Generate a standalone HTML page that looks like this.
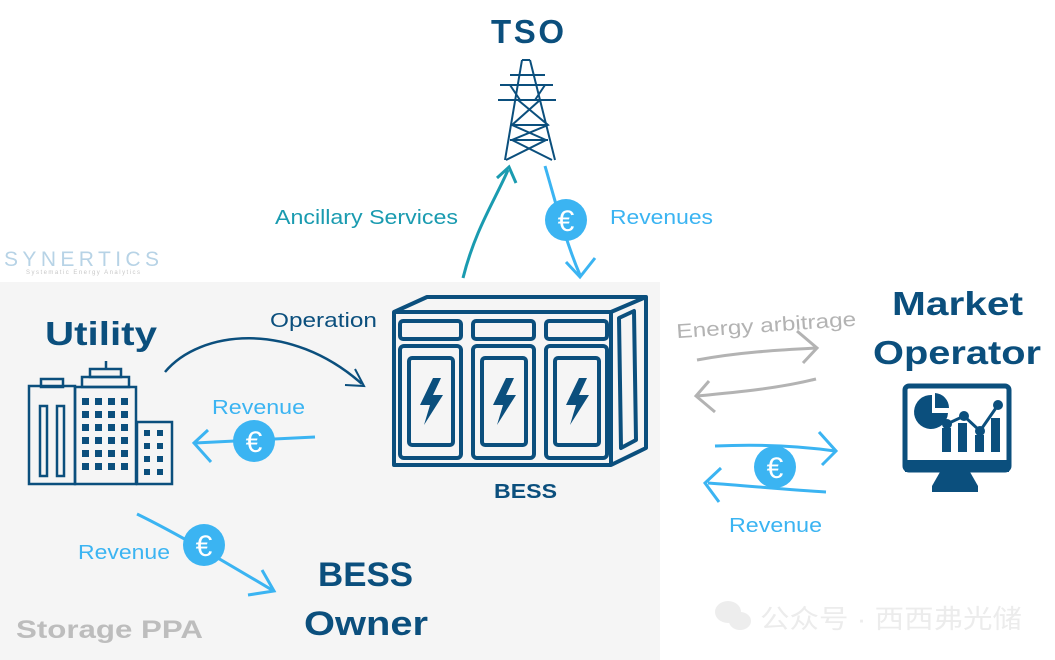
<!DOCTYPE html>
<html><head><meta charset="utf-8"><style>
html,body{margin:0;padding:0;background:#fff;}
svg{display:block;}
text{font-family:"Liberation Sans","Noto Sans CJK SC",sans-serif;}
</style></head><body>
<svg width="1055" height="660" viewBox="0 0 1055 660" xmlns="http://www.w3.org/2000/svg">
<rect x="0" y="282" width="660" height="378" fill="#f5f5f5"/>
<text x="4" y="266" font-size="21" fill="#b7d3e6" textLength="155" lengthAdjust="spacing">SYNERTICS</text>
<text x="26" y="274" font-size="6" fill="#c8c8c8" textLength="114" lengthAdjust="spacing">Systematic Energy Analytics</text>

<text x="491" y="43" font-size="33" font-weight="bold" fill="#0b4f7d" textLength="73" lengthAdjust="spacing">TSO</text>
<g stroke="#0b4f7d" stroke-width="2" fill="none">
<path d="M522 60 L505 160 M530 60 L555 160 M522 60 L530 60"/>
<path d="M500 85 L553 85 M498 100 L556 100 M510 85 L520 100 M545 85 L535 100"/>
<path d="M518 100 L548 125 L512 140 L552 160 M540 100 L512 125 L546 140 L506 160 M512 125 L548 125 M510 140 L548 140"/>
<path d="M510 75 L545 75"/>
</g>
<path d="M463 278 C475 230 495 200 508 170" stroke="#1a9bb0" stroke-width="3" fill="none"/>
<path d="M497 178 L509 167 L516 183" stroke="#1a9bb0" stroke-width="3" fill="none"/>
<text x="275" y="224" font-size="20" fill="#1a9bb0" textLength="183" lengthAdjust="spacingAndGlyphs">Ancillary Services</text>
<path d="M545 166 C555 200 565 240 580 275" stroke="#3bb4f2" stroke-width="3" fill="none"/>
<path d="M566 262 L580 277 L595 258" stroke="#3bb4f2" stroke-width="3" fill="none"/>
<circle cx="566" cy="220" r="21" fill="#3bb4f2"/>
<text x="566" y="231" font-size="30" fill="#fff" text-anchor="middle">€</text>
<text x="610" y="224" font-size="20" fill="#3bb4f2" textLength="103" lengthAdjust="spacingAndGlyphs">Revenues</text>

<g stroke="#0b4f7d" stroke-width="4" fill="none" stroke-linejoin="round">
<path d="M394 312 L427 297 L646 297 L646 448 L611 465 L394 465 Z"/>
<path d="M394 312 L611 312 L646 297 M611 312 L611 465"/>
<path d="M619 318 L634 311 L636 440 L621 448 Z"/>
<rect x="400" y="321" width="61" height="18" rx="3"/>
<rect x="473" y="321" width="61" height="18" rx="3"/>
<rect x="546" y="321" width="61" height="18" rx="3"/>
<rect x="400" y="346" width="61" height="112" rx="4"/>
<rect x="473" y="346" width="61" height="112" rx="4"/>
<rect x="546" y="346" width="61" height="112" rx="4"/>
<rect x="409" y="358" width="44" height="87" rx="3"/>
<rect x="482" y="358" width="44" height="87" rx="3"/>
<rect x="555" y="358" width="44" height="87" rx="3"/>
</g>
<g fill="#0b4f7d">
<path d="M433 378 L420 405 L430 405 L424 425 L443 395 L433 395 L441 378 Z"/>
<path d="M506 378 L493 405 L503 405 L497 425 L516 395 L506 395 L514 378 Z"/>
<path d="M579 378 L566 405 L576 405 L570 425 L589 395 L579 395 L587 378 Z"/>
</g>
<text x="494" y="498" font-size="20" font-weight="bold" fill="#0b4f7d" textLength="63" lengthAdjust="spacingAndGlyphs">BESS</text>

<text x="45" y="345" font-size="33" font-weight="bold" fill="#0b4f7d" textLength="112" lengthAdjust="spacingAndGlyphs">Utility</text>
<g stroke="#0b4f7d" stroke-width="2.5" fill="none">
<rect x="29" y="386" width="46" height="98"/>
<rect x="41" y="379" width="22" height="8"/>
<rect x="40" y="406" width="7" height="70"/><rect x="57" y="406" width="7" height="70"/>
<rect x="75" y="387" width="61" height="97"/>
<rect x="82" y="377" width="47" height="10"/>
<rect x="90" y="369" width="31" height="8"/>
<path d="M106 361 L106 369"/>
<rect x="137" y="422" width="35" height="62"/>
</g>
<g fill="#0b4f7d">
<path d="M82 398h7v7h-7zM95 398h7v7h-7zM108 398h7v7h-7zM121 398h7v7h-7z
M82 411h7v7h-7zM95 411h7v7h-7zM108 411h7v7h-7zM121 411h7v7h-7z
M82 424h7v7h-7zM95 424h7v7h-7zM108 424h7v7h-7zM121 424h7v7h-7z
M82 437h7v7h-7zM95 437h7v7h-7zM108 437h7v7h-7zM121 437h7v7h-7z
M82 450h7v7h-7zM95 450h7v7h-7zM108 450h7v7h-7zM121 450h7v7h-7z
M82 463h7v7h-7zM95 463h7v7h-7zM108 463h7v7h-7zM121 463h7v7h-7z
M144 430h6v6h-6zM157 430h6v6h-6zM144 443h6v6h-6zM157 443h6v6h-6zM144 456h6v6h-6zM157 456h6v6h-6zM144 469h6v6h-6zM157 469h6v6h-6z"/>
</g>
<path d="M165 372 C200 330 290 320 362 384" stroke="#0b4f7d" stroke-width="2.5" fill="none"/>
<path d="M355 369 L364 386 L345 385" stroke="#0b4f7d" stroke-width="2" fill="none"/>
<text x="270" y="327" font-size="20" fill="#0b4f7d" textLength="107" lengthAdjust="spacingAndGlyphs">Operation</text>
<path d="M315 437 L195 443" stroke="#3bb4f2" stroke-width="3" fill="none"/>
<path d="M208 430 L194 443 L211 462" stroke="#3bb4f2" stroke-width="3" fill="none"/>
<circle cx="254" cy="441" r="21" fill="#3bb4f2"/>
<text x="254" y="452" font-size="30" fill="#fff" text-anchor="middle">€</text>
<text x="212" y="414" font-size="20" fill="#3bb4f2" textLength="93" lengthAdjust="spacingAndGlyphs">Revenue</text>
<path d="M137 514 C180 535 230 565 272 590" stroke="#3bb4f2" stroke-width="3" fill="none"/>
<path d="M262 570 L274 591 L248 595" stroke="#3bb4f2" stroke-width="3" fill="none"/>
<circle cx="204" cy="545" r="21" fill="#3bb4f2"/>
<text x="204" y="556" font-size="30" fill="#fff" text-anchor="middle">€</text>
<text x="78" y="559" font-size="20" fill="#3bb4f2" textLength="92" lengthAdjust="spacingAndGlyphs">Revenue</text>
<text x="318" y="586" font-size="34" font-weight="bold" fill="#0b4f7d" textLength="95" lengthAdjust="spacingAndGlyphs">BESS</text>
<text x="304" y="635" font-size="34" font-weight="bold" fill="#0b4f7d" textLength="124" lengthAdjust="spacingAndGlyphs">Owner</text>
<text x="16" y="638" font-size="25" font-weight="bold" fill="#bdbdbd" textLength="187" lengthAdjust="spacingAndGlyphs">Storage PPA</text>

<text x="892" y="315" font-size="33" font-weight="bold" fill="#0b4f7d" textLength="131" lengthAdjust="spacingAndGlyphs">Market</text>
<text x="873" y="364" font-size="33" font-weight="bold" fill="#0b4f7d" textLength="168" lengthAdjust="spacingAndGlyphs">Operator</text>
<rect x="905" y="386" width="104" height="84" rx="4" fill="none" stroke="#0b4f7d" stroke-width="5"/>
<rect x="905" y="460" width="104" height="12" fill="#0b4f7d"/>
<path d="M940 472 L970 472 L978 486 L978 492 L932 492 L932 486 Z" fill="#0b4f7d"/>
<g fill="#0b4f7d">
<path d="M932 395 A17 17 0 1 0 948 413 L932 413 Z"/>
<path d="M935 393 A15 15 0 0 1 949 408 L935 408 Z"/>
<rect x="942" y="428" width="9" height="24"/><rect x="958" y="423" width="9" height="29"/><rect x="975" y="435" width="9" height="17"/><rect x="991" y="418" width="9" height="34"/>
<circle cx="947" cy="424" r="5"/><circle cx="964" cy="416" r="5"/><circle cx="980" cy="431" r="5"/><circle cx="998" cy="405" r="5"/>
</g>
<path d="M947 424 L964 416 L980 431 L998 405" stroke="#0b4f7d" stroke-width="3" fill="none"/>
<text x="676" y="332" font-size="20" fill="#b3b3b3" textLength="180" lengthAdjust="spacingAndGlyphs" transform="rotate(-4 765 322)">Energy arbitrage</text>
<path d="M697 360 C740 352 780 350 817 348" stroke="#b3b3b3" stroke-width="3" fill="none"/>
<path d="M797 331 L817 348 L803 363" stroke="#b3b3b3" stroke-width="3" fill="none"/>
<path d="M816 379 C780 388 740 392 697 396" stroke="#b3b3b3" stroke-width="3" fill="none"/>
<path d="M709 381 L696 396 L715 412" stroke="#b3b3b3" stroke-width="3" fill="none"/>
<path d="M715 446 C760 444 800 446 835 451" stroke="#3bb4f2" stroke-width="3" fill="none"/>
<path d="M819 432 L836 451 L822 465" stroke="#3bb4f2" stroke-width="3" fill="none"/>
<path d="M826 492 C790 490 750 486 708 483" stroke="#3bb4f2" stroke-width="3" fill="none"/>
<path d="M721 468 L705 483 L719 502" stroke="#3bb4f2" stroke-width="3" fill="none"/>
<circle cx="775" cy="467" r="21" fill="#3bb4f2"/>
<text x="775" y="478" font-size="30" fill="#fff" text-anchor="middle">€</text>
<text x="729" y="532" font-size="20" fill="#3bb4f2" textLength="93" lengthAdjust="spacingAndGlyphs">Revenue</text>
<g fill="#ededed"><ellipse cx="728" cy="612" rx="13" ry="11"/><ellipse cx="740" cy="621" rx="11" ry="9"/></g>
<text x="760" y="628" font-size="26" fill="#ececec" textLength="262" lengthAdjust="spacingAndGlyphs">公众号 · 西西弗光储</text>
</svg>
</body></html>
